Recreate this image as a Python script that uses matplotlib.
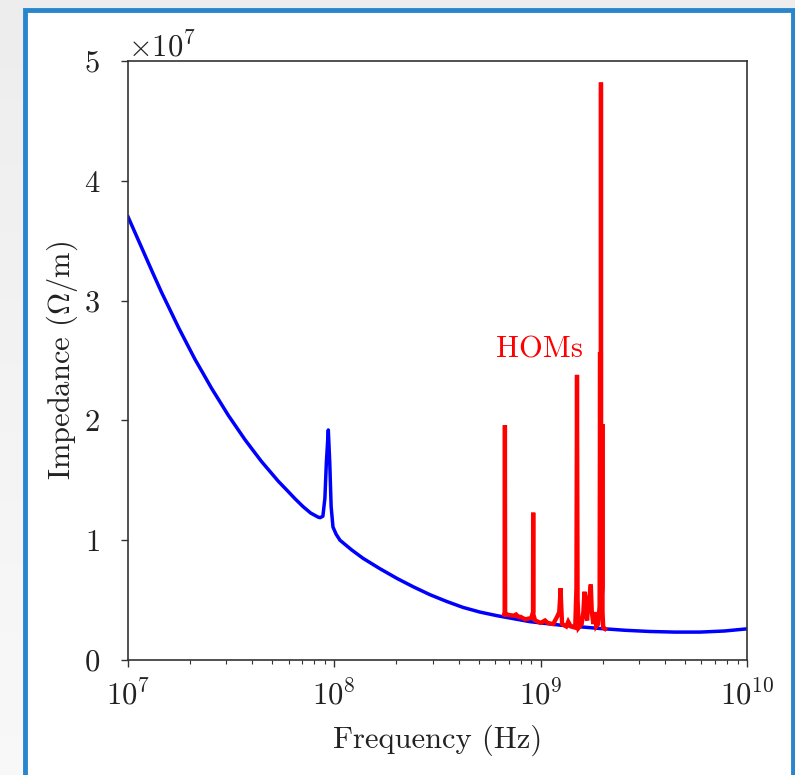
import matplotlib
matplotlib.use("Agg")
import matplotlib.pyplot as plt
from matplotlib.patches import Rectangle
import numpy as np

# ---------------- data ----------------
# broadband impedance (blue), frequency in Hz, impedance in Ohm/m
bg_freq = [1.0e7, 1.151e7, 1.321e7, 1.455e7, 1.600e7, 1.758e7, 1.932e7, 2.113e7,
           2.312e7, 2.541e7, 2.793e7, 3.069e7, 3.373e7, 3.690e7, 4.036e7, 4.436e7,
           4.875e7, 5.358e7, 5.902e7, 6.457e7, 7.047e7, 7.674e7, 8.337e7, 8.53e7,
           8.80e7, 9.00e7, 9.15e7, 9.35e7, 9.50e7, 9.65e7, 9.85e7, 1.02e8,
           1.065e8, 1.211e8, 1.377e8, 1.66e8, 2.012e8, 2.42e8, 2.909e8, 3.50e8,
           4.204e8, 5.08e8, 6.14e8, 8.87e8, 1.26e9, 1.94e9, 2.57e9, 3.39e9,
           4.47e9, 5.92e9, 7.76e9, 1.0e10]
bg_imp = [3.700e7, 3.462e7, 3.228e7, 3.068e7, 2.921e7, 2.775e7, 2.638e7, 2.509e7,
          2.392e7, 2.268e7, 2.154e7, 2.040e7, 1.937e7, 1.839e7, 1.750e7, 1.657e7,
          1.574e7, 1.491e7, 1.416e7, 1.345e7, 1.281e7, 1.227e7, 1.193e7, 1.188e7,
          1.20e7, 1.35e7, 1.65e7, 1.92e7, 1.65e7, 1.28e7, 1.11e7, 1.05e7,
          1.00e7, 0.92e7, 0.849e7, 0.763e7, 0.681e7, 0.61e7, 0.545e7, 0.489e7,
          0.439e7, 0.40e7, 0.37e7, 0.32e7, 0.29e7, 0.263e7, 0.248e7, 0.238e7,
          0.233e7, 0.233e7, 0.242e7, 0.26e7]

# higher-order modes (red)
hom_freq = [6.65e8, 6.69e8, 6.71e8, 6.73e8, 6.77e8, 7.4e8, 7.6e8, 7.8e8,
            8.0e8, 8.4e8, 9.0e8, 9.18e8, 9.20e8, 9.22e8, 9.4e8, 1.00e9,
            1.05e9, 1.08e9, 1.15e9, 1.20e9, 1.23e9, 1.245e9, 1.25e9, 1.255e9,
            1.27e9, 1.33e9, 1.36e9, 1.40e9, 1.47e9, 1.49e9, 1.50e9, 1.51e9,
            1.53e9, 1.58e9, 1.61e9, 1.63e9, 1.65e9, 1.68e9, 1.70e9, 1.73e9,
            1.75e9, 1.77e9, 1.80e9, 1.83e9, 1.86e9, 1.90e9, 1.93e9, 1.94e9,
            1.945e9, 1.955e9, 1.96e9, 1.965e9, 1.975e9, 1.985e9, 1.99e9, 1.995e9,
            2.01e9, 2.05e9]
hom_imp = [0.38e7, 0.40e7, 1.96e7, 0.40e7, 0.38e7, 0.37e7, 0.38e7, 0.36e7,
           0.36e7, 0.34e7, 0.35e7, 0.40e7, 1.23e7, 0.38e7, 0.33e7, 0.31e7,
           0.33e7, 0.31e7, 0.30e7, 0.36e7, 0.40e7, 0.55e7, 0.60e7, 0.50e7,
           0.30e7, 0.28e7, 0.32e7, 0.28e7, 0.27e7, 0.60e7, 2.38e7, 0.50e7,
           0.27e7, 0.30e7, 0.40e7, 0.57e7, 0.40e7, 0.33e7, 0.50e7, 0.55e7,
           0.63e7, 0.40e7, 0.30e7, 0.40e7, 0.28e7, 0.30e7, 0.45e7, 2.57e7,
           0.80e7, 0.80e7, 4.82e7, 0.80e7, 0.50e7, 0.60e7, 1.97e7, 0.40e7,
           0.27e7, 0.26e7]

x_limits = (1e7, 1e10)
y_limits = (0, 5e7)
y_ticks = [0, 1e7, 2e7, 3e7, 4e7, 5e7]
hom_label = "HOMs"
hom_label_pos = (9.9e8, 2.59e7)

# ---------------- style ----------------
plt.rcParams["font.family"] = "serif"
plt.rcParams["font.serif"] = ["cmr10", "DejaVu Serif"]
plt.rcParams["mathtext.fontset"] = "cm"
plt.rcParams["axes.formatter.use_mathtext"] = True
plt.rcParams["axes.unicode_minus"] = False

fig = plt.figure(figsize=(7.95, 7.75), dpi=100)
fig.patch.set_facecolor("#ebebeb")

# background: light gray gradient + white panel with blue border
bg_ax = fig.add_axes([0, 0, 1, 1], zorder=-10)
bg_ax.set_xlim(0, 795)
bg_ax.set_ylim(775, 0)
bg_ax.axis("off")
grad = np.linspace(0, 1, 256).reshape(-1, 1)
bg_ax.imshow(grad, extent=(0, 795, 775, 0), cmap="Greys_r", vmin=-9.5, vmax=1.6,
             aspect="auto", zorder=0)
bg_ax.add_patch(Rectangle((25, 10), 793 - 25, 800, facecolor="white",
                          edgecolor="#2a86cc", linewidth=3.5, zorder=1))

ax = fig.add_axes([128 / 795, 1 - 660 / 775, (747 - 128) / 795, (660 - 61) / 775])
ax.set_facecolor("white")

ax.plot(bg_freq, bg_imp, color="blue", linewidth=2.5, zorder=2)
ax.plot(hom_freq, hom_imp, color="red", linewidth=3.1, zorder=3,
        solid_joinstyle="miter")
ax.text(hom_label_pos[0], hom_label_pos[1], hom_label, color="red",
        fontsize=22, ha="center", va="center")

ax.set_xscale("log")
ax.set_xlim(*x_limits)
ax.set_ylim(*y_limits)
ax.set_yticks(y_ticks)

ax.set_xlabel("Frequency (Hz)", fontsize=22, color="#222222", labelpad=10)
ax.set_ylabel(r"Impedance ($\Omega$/m)", fontsize=22, color="#222222", labelpad=3)

ax.tick_params(axis="both", which="major", direction="out", length=5,
               width=1, labelsize=22, colors="#333333", labelcolor="#222222")
ax.tick_params(axis="x", which="major", pad=9)
ax.tick_params(axis="y", which="major", pad=15)
ax.tick_params(axis="both", which="minor", direction="out", length=3,
               width=0.8, colors="#333333")
ax.yaxis.get_offset_text().set_fontsize(22)
ax.yaxis.get_offset_text().set_color("#222222")
for sp in ax.spines.values():
    sp.set_color("#333333")
    sp.set_linewidth(1.2)

fig.savefig("out.png", dpi=100, facecolor=fig.get_facecolor())
